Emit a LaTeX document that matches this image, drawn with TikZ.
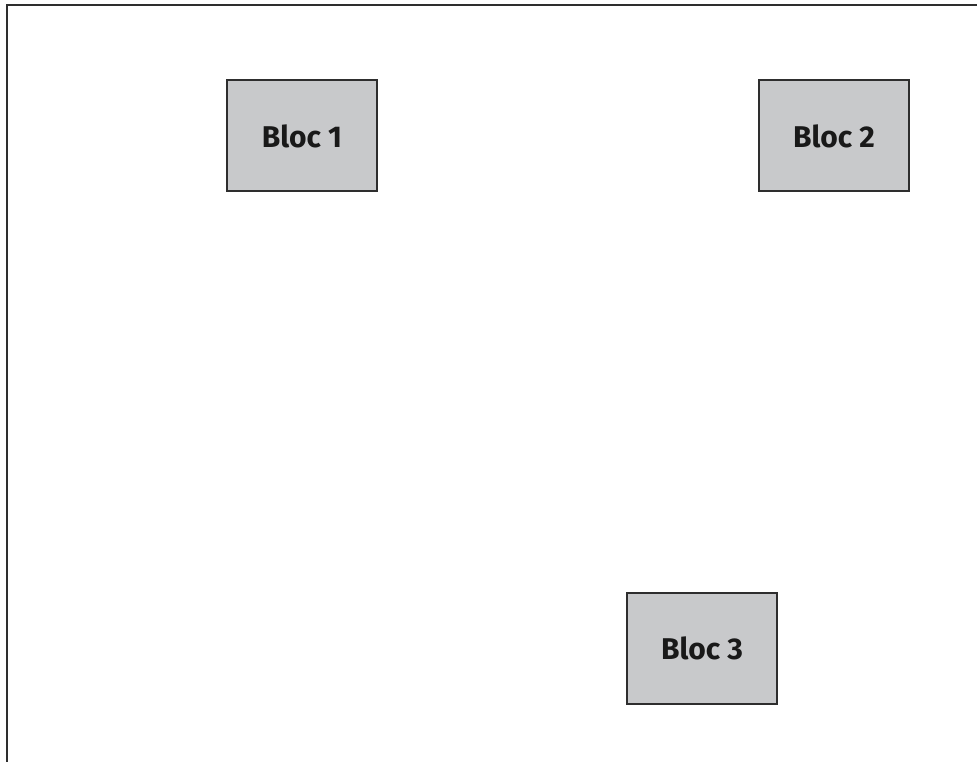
\documentclass[tikz,border=0pt]{standalone}
\usepackage{fontspec}
\setmainfont{Fira Sans}
\definecolor{blocgris}{HTML}{C8C9CB}
\definecolor{bordgris}{HTML}{2E2E2E}
\tikzset{
  bloc/.style={draw=bordgris, line width=2pt, fill=blocgris,
    minimum width=150pt, minimum height=111pt, inner sep=0pt,
    font=\fontsize{30}{36}\selectfont\bfseries, text=black!90}
}
\begin{document}
\begin{tikzpicture}[x=1pt,y=-1pt]
      \useasboundingbox (0,0) rectangle (977,762);
      % cadre (bord gauche et bord haut)
      \draw[bordgris, line width=2.5pt] (7,762) coordinate (c0)
          -- (7,5) coordinate (c1) -- (977,5) coordinate (c2);
      \node[bloc] (b1) at (302,136) {Bloc 1};
      \node[bloc] (b2) at (834,136) {Bloc 2};
      \node[bloc] (b3) at (702,648.5) {Bloc 3};
  \end{tikzpicture}
\end{document}
